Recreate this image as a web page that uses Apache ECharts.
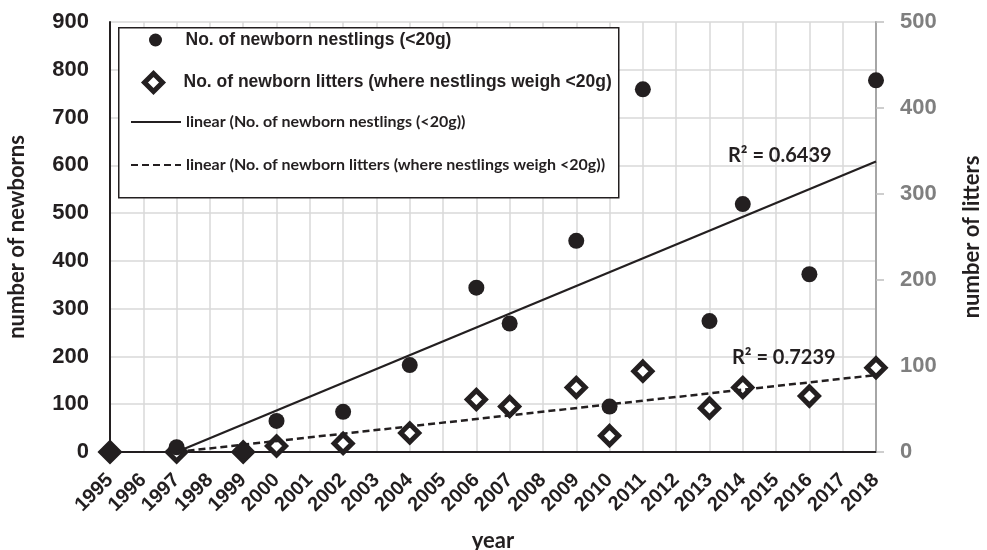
<!DOCTYPE html>
<html><head><meta charset="utf-8">
<script src="https://cdn.jsdelivr.net/npm/echarts@6/dist/echarts.min.js"></script>
<style>html,body{margin:0;padding:0;background:#fff}#c{width:987px;height:550px}</style>
</head><body><div id="c"></div><script>
const years = ['1995','1996','1997','1998','1999','2000','2001','2002','2003','2004','2005','2006','2007','2008','2009','2010','2011','2012','2013','2014','2015','2016','2017','2018'];
const nestlingYears = ['1995','1997','1999','2000','2002','2004','2006','2007','2009','2010','2011','2013','2014','2016','2018'];
const nestlingValues = [0,10,2,65,84,182,344,269,442,95,759,274,519,372,778];
const litterYears = ['1995','1997','1999','2000','2002','2004','2006','2007','2009','2010','2011','2013','2014','2016','2018'];
const litterValues = [0,0,0,7,10,22,61,53,75,19,94,51,75,65,98];
const nestlingTrendYears = ['1997','2018'];
const nestlingTrendValues = [0,608];
const litterTrendYears = ['1997','2018'];
const litterTrendValues = [0,89.5];
const leftAxis = {min:0, max:900, interval:100};
const rightAxis = {min:0, max:500, interval:100};
const names = [
  'No. of newborn nestlings (<20g)',
  'No. of newborn litters (where nestlings weigh <20g)',
  'linear (No. of newborn nestlings (<20g))',
  'linear (No. of newborn litters (where nestlings weigh <20g))'
];
const r2Texts = ['R\u00b2 = 0.6439','R\u00b2 = 0.7239'];

const pair = (xs, vs) => xs.map((x,i)=>[x, vs[i]]);
const chart = echarts.init(document.getElementById('c'));
const ink = '#231f20';
const arial = 'Liberation Sans, Arial';
const tickFont = {fontFamily:arial, fontWeight:'bold', fontSize:22};
const lato = 'Lato, Carlito, sans-serif';
const circlePath = 'path://M-1,0A1,1 0 1,1 1,0A1,1 0 1,1 -1,0Z';
const diamondPath = 'path://M0,-1L1,0L0,1L-1,0Z';

function legendAt(left, top, item, h, textStyle) {
  return {
    left:left, top:top, orient:'vertical', itemWidth:50, itemHeight:h, itemGap:5,
    data:[item], textStyle:textStyle, selectedMode:false, z:12, padding:0, symbolKeepAspect:true
  };
}
const bigLegText = {fontFamily:arial, fontWeight:'bold', fontSize:17.5, color:ink};
const smallLegText = {fontFamily:lato, fontWeight:'bold', fontSize:16, color:ink};

chart.setOption({
  animation:false,
  grid:{left:110, right:111, top:22, bottom:98, containLabel:false, outerBoundsMode:'none'},
  xAxis:[{
    type:'category', data:years, boundaryGap:false,
    axisLine:{lineStyle:{color:ink, width:2}},
    axisTick:{show:false},
    axisLabel:{rotate:45, interval:0, color:ink, fontFamily:arial, fontWeight:'bold', fontSize:20, margin:25},
    splitLine:{show:true, lineStyle:{color:'#d9d9d9', width:1.5}},
    name:'year', nameLocation:'middle', nameGap:78,
    nameTextStyle:{fontFamily:lato, fontWeight:'bold', fontSize:22, color:ink}
  },{
    type:'category', data:years, boundaryGap:false, position:'top',
    axisLine:{lineStyle:{color:ink, width:1.5}}, axisTick:{show:false}, axisLabel:{show:false}, splitLine:{show:false}
  }],
  yAxis:[{
    type:'value', min:leftAxis.min, max:leftAxis.max, interval:leftAxis.interval,
    axisLine:{show:true, lineStyle:{color:ink, width:2}},
    axisTick:{show:false},
    axisLabel:Object.assign({color:ink, margin:21}, tickFont),
    splitLine:{show:true, lineStyle:{color:'#d9d9d9', width:1.5}},
    name:'number of newborns', nameLocation:'middle', nameGap:82, nameRotate:90,
    nameTextStyle:{fontFamily:lato, fontWeight:'bold', fontSize:22, color:ink}
  },{
    type:'value', position:'right', min:rightAxis.min, max:rightAxis.max, interval:rightAxis.interval,
    axisLine:{show:true, lineStyle:{color:'#a6a6a6', width:2}},
    axisTick:{show:true, length:8, lineStyle:{color:'#bfbfbf', width:1.5}},
    axisLabel:Object.assign({color:'#7f7f7f', margin:24}, tickFont),
    splitLine:{show:false},
    name:'number of litters', nameLocation:'middle', nameGap:85, nameRotate:90,
    nameTextStyle:{fontFamily:lato, fontWeight:'bold', fontSize:22, color:ink}
  }],
  legend:[
    legendAt(149, 31, {name:names[0], icon:circlePath, itemStyle:{color:ink}}, 13, bigLegText),
    legendAt(142, 71, {name:names[1], icon:diamondPath, itemStyle:{color:'#fff', borderColor:ink, borderWidth:5}}, 18, bigLegText),
    legendAt(130, 114, {name:names[2], itemStyle:{opacity:0}}, 14, smallLegText),
    legendAt(130, 157, {name:names[3], itemStyle:{opacity:0}}, 14, smallLegText)
  ],
  graphic:[
    {type:'rect', left:118, top:27, shape:{width:500, height:170}, style:{fill:'#fff', stroke:ink, lineWidth:1.5}, z:10},
    {type:'text', left:728, top:146, style:{text:r2Texts[0], font:'bold 20px '+lato, fill:ink}, z:10},
    {type:'text', left:732, top:348, style:{text:r2Texts[1], font:'bold 20px '+lato, fill:ink}, z:10}
  ],
  series:[
    {name:names[1], type:'scatter', yAxisIndex:1, data:pair(litterYears, litterValues),
     symbol:'diamond', symbolSize:18, itemStyle:{color:'#fff', borderColor:ink, borderWidth:5, opacity:1}, z:3},
    {name:names[0], type:'scatter', yAxisIndex:0, data:pair(nestlingYears, nestlingValues),
     symbol:'circle', symbolSize:16, itemStyle:{color:ink, opacity:1}, z:4},
    {name:names[2], type:'line', yAxisIndex:0, data:pair(nestlingTrendYears, nestlingTrendValues),
     showSymbol:false, symbol:'none', lineStyle:{color:ink, width:2.2}, itemStyle:{color:ink}, z:5},
    {name:names[3], type:'line', yAxisIndex:1, data:pair(litterTrendYears, litterTrendValues),
     showSymbol:false, symbol:'none', lineStyle:{color:ink, width:2.5, type:[7,4]}, itemStyle:{color:ink}, z:5}
  ]
});
</script></body></html>
